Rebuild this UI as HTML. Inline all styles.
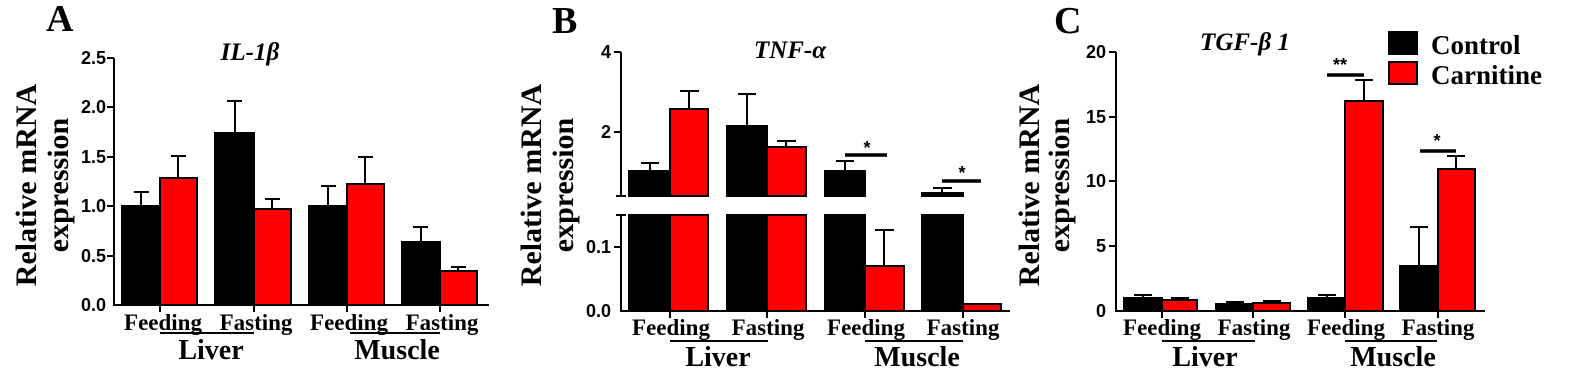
<!DOCTYPE html>
<html><head><meta charset="utf-8"><style>
html,body{margin:0;padding:0;background:#fff;}
svg{display:block;}
.t{font-family:"Liberation Sans",sans-serif;font-weight:bold;font-size:18px;}
.s{font-family:"Liberation Serif",serif;font-weight:bold;}
</style></head><body>
<svg width="1575" height="368" viewBox="0 0 1575 368" xmlns="http://www.w3.org/2000/svg">
<g stroke="#000" stroke-width="2">
<line x1="114" y1="58" x2="114" y2="306"/>
<line x1="113" y1="305" x2="489" y2="305"/>
<line x1="107" y1="58" x2="114" y2="58"/><line x1="107" y1="107" x2="114" y2="107"/><line x1="107" y1="157" x2="114" y2="157"/><line x1="107" y1="206" x2="114" y2="206"/><line x1="107" y1="256" x2="114" y2="256"/>
<line x1="160" y1="305" x2="160" y2="312"/><line x1="254" y1="305" x2="254" y2="312"/><line x1="347" y1="305" x2="347" y2="312"/><line x1="440" y1="305" x2="440" y2="312"/>
<line x1="141" y1="206" x2="141" y2="192"/><line x1="134" y1="192" x2="149" y2="192"/>
<line x1="178" y1="178" x2="178" y2="156"/><line x1="171" y1="156" x2="186" y2="156"/>
<line x1="235" y1="133" x2="235" y2="101"/><line x1="227" y1="101" x2="242" y2="101"/>
<line x1="272" y1="209" x2="272" y2="199"/><line x1="265" y1="199" x2="280" y2="199"/>
<line x1="328" y1="206" x2="328" y2="186"/><line x1="321" y1="186" x2="336" y2="186"/>
<line x1="365" y1="184" x2="365" y2="157"/><line x1="358" y1="157" x2="373" y2="157"/>
<line x1="421" y1="242" x2="421" y2="227"/><line x1="413" y1="227" x2="428" y2="227"/>
<line x1="458" y1="271" x2="458" y2="267"/><line x1="451" y1="267" x2="466" y2="267"/>
<rect x="122" y="206" width="38" height="99" fill="#000"/>
<rect x="160" y="178" width="37" height="127" fill="#f00"/>
<rect x="215" y="133" width="39" height="172" fill="#000"/>
<rect x="254" y="209" width="37" height="96" fill="#f00"/>
<rect x="309" y="206" width="38" height="99" fill="#000"/>
<rect x="347" y="184" width="37" height="121" fill="#f00"/>
<rect x="402" y="242" width="38" height="63" fill="#000"/>
<rect x="440" y="271" width="37" height="34" fill="#f00"/>
<line x1="160" y1="333" x2="254" y2="333"/><line x1="350" y1="333" x2="440" y2="333"/>

<line x1="621" y1="52" x2="621" y2="196"/>
<line x1="621" y1="215" x2="621" y2="312"/>
<line x1="616" y1="196" x2="626" y2="196"/><line x1="616" y1="215" x2="626" y2="215"/>
<line x1="614" y1="52" x2="621" y2="52"/><line x1="614" y1="132" x2="621" y2="132"/><line x1="614" y1="247" x2="621" y2="247"/>
<line x1="620" y1="311" x2="1010" y2="311"/>
<line x1="670" y1="311" x2="670" y2="318"/><line x1="767" y1="311" x2="767" y2="318"/><line x1="865" y1="311" x2="865" y2="318"/><line x1="963" y1="311" x2="963" y2="318"/>
<line x1="650" y1="171" x2="650" y2="163"/><line x1="641" y1="163" x2="659" y2="163"/>
<line x1="689" y1="109" x2="689" y2="91"/><line x1="680" y1="91" x2="699" y2="91"/>
<line x1="747" y1="126" x2="747" y2="94"/><line x1="738" y1="94" x2="756" y2="94"/>
<line x1="786" y1="147" x2="786" y2="141"/><line x1="777" y1="141" x2="796" y2="141"/>
<line x1="845" y1="171" x2="845" y2="161"/><line x1="836" y1="161" x2="854" y2="161"/>
<line x1="942" y1="193" x2="942" y2="188"/><line x1="933" y1="188" x2="952" y2="188"/>
<line x1="884" y1="266" x2="884" y2="230"/><line x1="875" y1="230" x2="894" y2="230"/>
<rect x="629" y="171" width="41" height="25" fill="#000"/>
<rect x="670" y="109" width="38" height="87" fill="#f00"/>
<rect x="727" y="126" width="40" height="70" fill="#000"/>
<rect x="767" y="147" width="39" height="49" fill="#f00"/>
<rect x="825" y="171" width="40" height="25" fill="#000"/>
<rect x="922" y="193" width="41" height="3" fill="#000"/>
<rect x="629" y="215" width="41" height="96" fill="#000"/>
<rect x="670" y="215" width="38" height="96" fill="#f00"/>
<rect x="727" y="215" width="40" height="96" fill="#000"/>
<rect x="767" y="215" width="39" height="96" fill="#f00"/>
<rect x="825" y="215" width="40" height="96" fill="#000"/>
<rect x="865" y="266" width="39" height="45" fill="#f00"/>
<rect x="922" y="215" width="41" height="96" fill="#000"/>
<rect x="963" y="304" width="38" height="7" fill="#f00"/>
<line x1="845" y1="155" x2="887" y2="155" stroke-width="3.5"/>
<line x1="942" y1="181" x2="981" y2="181" stroke-width="3.5"/>
<line x1="670" y1="341" x2="768" y2="341"/><line x1="865" y1="341" x2="963" y2="341"/>

<line x1="1116" y1="52" x2="1116" y2="312"/>
<line x1="1115" y1="311" x2="1485" y2="311"/>
<line x1="1109" y1="52" x2="1116" y2="52"/><line x1="1109" y1="117" x2="1116" y2="117"/><line x1="1109" y1="181" x2="1116" y2="181"/><line x1="1109" y1="246" x2="1116" y2="246"/>
<line x1="1162" y1="311" x2="1162" y2="318"/><line x1="1253" y1="311" x2="1253" y2="318"/><line x1="1345" y1="311" x2="1345" y2="318"/><line x1="1438" y1="311" x2="1438" y2="318"/>
<line x1="1143" y1="298" x2="1143" y2="295"/><line x1="1134" y1="295" x2="1152" y2="295"/>
<line x1="1180" y1="300" x2="1180" y2="298"/><line x1="1171" y1="298" x2="1189" y2="298"/>
<line x1="1235" y1="304" x2="1235" y2="302"/><line x1="1226" y1="302" x2="1244" y2="302"/>
<line x1="1272" y1="303" x2="1272" y2="301"/><line x1="1263" y1="301" x2="1281" y2="301"/>
<line x1="1327" y1="298" x2="1327" y2="295"/><line x1="1318" y1="295" x2="1336" y2="295"/>
<line x1="1364" y1="101" x2="1364" y2="80"/><line x1="1355" y1="80" x2="1373" y2="80"/>
<line x1="1419" y1="266" x2="1419" y2="227"/><line x1="1410" y1="227" x2="1428" y2="227"/>
<line x1="1456" y1="169" x2="1456" y2="156"/><line x1="1447" y1="156" x2="1465" y2="156"/>
<rect x="1124" y="298" width="38" height="13" fill="#000"/>
<rect x="1162" y="300" width="35" height="11" fill="#f00"/>
<rect x="1216" y="304" width="37" height="7" fill="#000"/>
<rect x="1253" y="303" width="37" height="8" fill="#f00"/>
<rect x="1308" y="298" width="37" height="13" fill="#000"/>
<rect x="1345" y="101" width="38" height="210" fill="#f00"/>
<rect x="1400" y="266" width="38" height="45" fill="#000"/>
<rect x="1438" y="169" width="37" height="142" fill="#f00"/>
<line x1="1327" y1="75" x2="1364" y2="75" stroke-width="3.5"/>
<line x1="1420" y1="151" x2="1456" y2="151" stroke-width="3.5"/>
<line x1="1162" y1="341" x2="1255" y2="341"/><line x1="1345" y1="341" x2="1437" y2="341"/>
<rect x="1389" y="32" width="28" height="22" fill="#000"/>
<rect x="1389" y="62" width="28" height="22" fill="#f00"/>
</g>

<g class="t" text-anchor="end">
<text x="106" y="64">2.5</text><text x="106" y="113">2.0</text><text x="106" y="163">1.5</text><text x="106" y="212">1.0</text><text x="106" y="262">0.5</text><text x="106" y="311">0.0</text>
<text x="611" y="58">4</text><text x="611" y="138">2</text><text x="611" y="253">0.1</text><text x="611" y="317">0.0</text>
<text x="1106" y="58">20</text><text x="1106" y="123">15</text><text x="1106" y="187">10</text><text x="1106" y="252">5</text><text x="1106" y="317">0</text>
</g>
<g class="s">
<text x="46" y="31" font-size="38">A</text>
<text x="552" y="33" font-size="38">B</text>
<text x="1054" y="33" font-size="38">C</text>
<text x="250" y="60" font-size="25" font-style="italic" text-anchor="middle">IL-1β</text>
<text x="790" y="58" font-size="25" font-style="italic" text-anchor="middle">TNF-α</text>
<text x="1245" y="50" font-size="25" font-style="italic" text-anchor="middle">TGF-β 1</text>
<g font-size="23" text-anchor="middle">
<text x="163" y="330">Feeding</text><text x="256" y="330">Fasting</text><text x="349" y="330">Feeding</text><text x="442" y="330">Fasting</text>
<text x="671" y="335">Feeding</text><text x="768" y="335">Fasting</text><text x="866" y="335">Feeding</text><text x="963" y="335">Fasting</text>
<text x="1162" y="335">Feeding</text><text x="1254" y="335">Fasting</text><text x="1346" y="335">Feeding</text><text x="1438" y="335">Fasting</text>
</g>
<g font-size="28" text-anchor="middle">
<text x="211" y="359">Liver</text><text x="397" y="359">Muscle</text>
<text x="718" y="366">Liver</text><text x="917" y="366">Muscle</text>
<text x="1205" y="366">Liver</text><text x="1393" y="366">Muscle</text>
</g>
<g font-size="30" text-anchor="middle">
<text transform="translate(36,185) rotate(-90)">Relative mRNA</text>
<text transform="translate(68,185) rotate(-90)">expression</text>
<text transform="translate(541,185) rotate(-90)">Relative mRNA</text>
<text transform="translate(573,185) rotate(-90)">expression</text>
<text transform="translate(1039,185) rotate(-90)">Relative mRNA</text>
<text transform="translate(1069,185) rotate(-90)">expression</text>
</g>
<text x="1431" y="54" font-size="27">Control</text>
<text x="1431" y="84" font-size="27">Carnitine</text>
</g>
<g class="t" font-size="19" text-anchor="middle">
<text x="867" y="154">*</text><text x="962" y="179">*</text>
<text x="1340" y="71">**</text><text x="1437" y="147">*</text>
</g>
</svg>
</body></html>
